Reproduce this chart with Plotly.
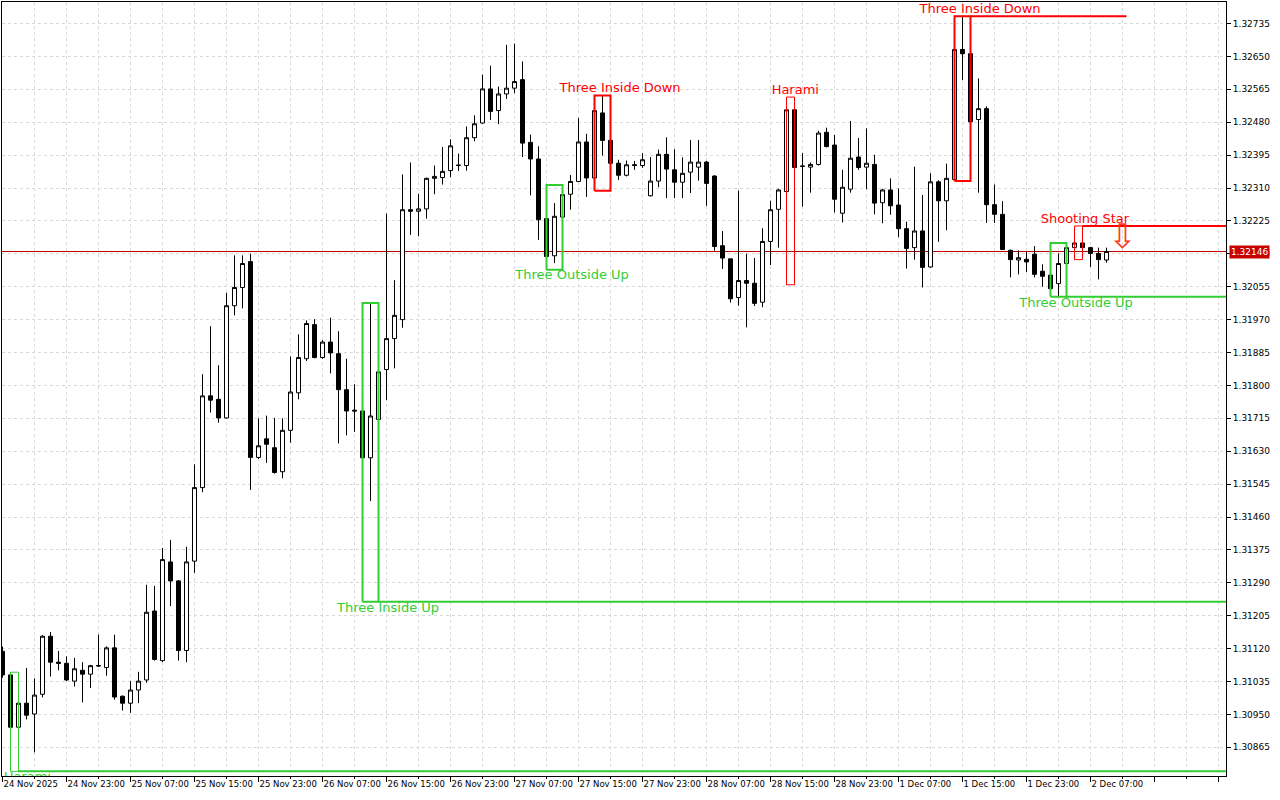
import plotly.graph_objects as go

# hourly bars, 24 Nov 2025 15:00 onwards (bar index on x)
opens = [
    1.31113, 1.31052, 1.30917, 1.30979, 1.30951, 1.31002, 1.31152, 1.31085, 1.31082, 1.31036,
    1.31064, 1.31054, 1.31075, 1.31071, 1.31122, 1.30997, 1.30979, 1.31013, 1.31039, 1.31217,
    1.31089, 1.31344, 1.31295, 1.31115, 1.31346, 1.31536, 1.31773, 1.31764, 1.31716, 1.32006,
    1.32053, 1.32120, 1.31614, 1.31662, 1.31639, 1.31577, 1.31684, 1.31781, 1.31869, 1.31957,
    1.31872, 1.31912, 1.31882, 1.31789, 1.31736, 1.31734, 1.31613, 1.31712, 1.31841, 1.31921,
    1.31970, 1.32254, 1.32250, 1.32256, 1.32335, 1.32337, 1.32355, 1.32368, 1.32368, 1.32440,
    1.32478, 1.32566, 1.32510, 1.32553, 1.32568, 1.32590, 1.32428, 1.32385, 1.32231, 1.32135,
    1.32235, 1.32294, 1.32327, 1.32429, 1.32336, 1.32504, 1.32433, 1.32374, 1.32343, 1.32368,
    1.32368, 1.32290, 1.32328, 1.32397, 1.32357, 1.32325, 1.32351, 1.32364, 1.32377, 1.32341,
    1.32161, 1.32127, 1.32027, 1.32071, 1.32064, 1.32015, 1.32172, 1.32255, 1.32301, 1.32512,
    1.32367, 1.32364, 1.32371, 1.32454, 1.32421, 1.32245, 1.32307, 1.32390, 1.32364, 1.32371,
    1.32272, 1.32305, 1.32266, 1.32205, 1.32156, 1.32199, 1.32106, 1.32326, 1.32277, 1.32332,
    1.32668, 1.32657, 1.32487, 1.32515, 1.32267, 1.32242, 1.32149, 1.32124, 1.32126, 1.32139,
    1.32095, 1.32085, 1.32063, 1.32115, 1.32156, 1.32168, 1.32156, 1.32141, 1.32124,
]
highs = [
    1.31125, 1.31059, 1.30994, 1.31070, 1.31043, 1.31155, 1.31163, 1.31114, 1.31100, 1.31096,
    1.31085, 1.31078, 1.31156, 1.31126, 1.31156, 1.30999, 1.31036, 1.31060, 1.31285, 1.31282,
    1.31380, 1.31401, 1.31297, 1.31383, 1.31596, 1.31829, 1.31953, 1.31852, 1.32039, 1.32136,
    1.32136, 1.32140, 1.31715, 1.31722, 1.31716, 1.31715, 1.31875, 1.31932, 1.31968, 1.31971,
    1.31917, 1.31975, 1.31940, 1.31869, 1.31803, 1.31766, 1.32011, 1.31891, 1.32244, 1.32072,
    1.32345, 1.32376, 1.32295, 1.32337, 1.32368, 1.32416, 1.32436, 1.32399, 1.32469, 1.32498,
    1.32603, 1.32626, 1.32572, 1.32680, 1.32683, 1.32637, 1.32448, 1.32418, 1.32231, 1.32271,
    1.32318, 1.32344, 1.32491, 1.32450, 1.32547, 1.32549, 1.32475, 1.32383, 1.32381, 1.32380,
    1.32400, 1.32390, 1.32409, 1.32441, 1.32410, 1.32389, 1.32434, 1.32434, 1.32380, 1.32343,
    1.32199, 1.32127, 1.32303, 1.32140, 1.32129, 1.32206, 1.32277, 1.32308, 1.32512, 1.32515,
    1.32400, 1.32376, 1.32458, 1.32466, 1.32447, 1.32357, 1.32483, 1.32439, 1.32464, 1.32396,
    1.32308, 1.32335, 1.32309, 1.32223, 1.32365, 1.32292, 1.32348, 1.32330, 1.32373, 1.32701,
    1.32754, 1.32660, 1.32593, 1.32521, 1.32319, 1.32276, 1.32151, 1.32149, 1.32145, 1.32160,
    1.32113, 1.32117, 1.32141, 1.32168, 1.32192, 1.32212, 1.32158, 1.32156, 1.32156,
]
lows = [
    1.31045, 1.30845, 1.30801, 1.30937, 1.30852, 1.30994, 1.31048, 1.31064, 1.31036, 1.31022,
    1.30981, 1.31018, 1.31073, 1.31050, 1.30988, 1.30960, 1.30954, 1.30979, 1.31032, 1.31089,
    1.31085, 1.31230, 1.31089, 1.31085, 1.31316, 1.31524, 1.31730, 1.31704, 1.31714, 1.31981,
    1.31999, 1.31530, 1.31610, 1.31600, 1.31572, 1.31560, 1.31652, 1.31764, 1.31863, 1.31870,
    1.31869, 1.31831, 1.31650, 1.31671, 1.31680, 1.31572, 1.31501, 1.31241, 1.31762, 1.31844,
    1.31949, 1.32189, 1.32186, 1.32231, 1.32294, 1.32319, 1.32338, 1.32354, 1.32355, 1.32431,
    1.32476, 1.32486, 1.32475, 1.32540, 1.32555, 1.32390, 1.32291, 1.32176, 1.32099, 1.32116,
    1.32205, 1.32254, 1.32325, 1.32287, 1.32304, 1.32394, 1.32303, 1.32331, 1.32340, 1.32357,
    1.32362, 1.32288, 1.32312, 1.32284, 1.32284, 1.32284, 1.32297, 1.32329, 1.32264, 1.32148,
    1.32101, 1.32014, 1.32006, 1.31950, 1.32005, 1.32002, 1.32111, 1.32156, 1.32060, 1.32344,
    1.32262, 1.32298, 1.32368, 1.32415, 1.32247, 1.32221, 1.32298, 1.32357, 1.32307, 1.32242,
    1.32219, 1.32241, 1.32183, 1.32102, 1.32125, 1.32053, 1.32104, 1.32171, 1.32201, 1.32330,
    1.32589, 1.32435, 1.32298, 1.32220, 1.32220, 1.32150, 1.32079, 1.32087, 1.32093, 1.32079,
    1.32055, 1.32037, 1.32029, 1.32102, 1.32125, 1.32145, 1.32106, 1.32074, 1.32117,
]
closes = [
    1.31052, 1.30917, 1.30979, 1.30948, 1.31000, 1.31152, 1.31085, 1.31082, 1.31039, 1.31068,
    1.31054, 1.31076, 1.31076, 1.31122, 1.30995, 1.30979, 1.31013, 1.31036, 1.31214, 1.31092,
    1.31350, 1.31295, 1.31115, 1.31344, 1.31536, 1.31773, 1.31762, 1.31716, 1.32006, 1.32053,
    1.32115, 1.31614, 1.31644, 1.31648, 1.31575, 1.31684, 1.31783, 1.31872, 1.31960, 1.31872,
    1.31912, 1.31884, 1.31789, 1.31734, 1.31734, 1.31613, 1.31721, 1.31835, 1.31921, 1.31981,
    1.32254, 1.32250, 1.32256, 1.32335, 1.32340, 1.32353, 1.32419, 1.32369, 1.32440, 1.32476,
    1.32566, 1.32508, 1.32553, 1.32568, 1.32585, 1.32426, 1.32385, 1.32228, 1.32133, 1.32237,
    1.32293, 1.32327, 1.32429, 1.32336, 1.32510, 1.32433, 1.32374, 1.32343, 1.32370, 1.32370,
    1.32383, 1.32328, 1.32397, 1.32359, 1.32325, 1.32348, 1.32377, 1.32377, 1.32322, 1.32159,
    1.32129, 1.32024, 1.32071, 1.32064, 1.32012, 1.32172, 1.32254, 1.32305, 1.32512, 1.32363,
    1.32366, 1.32371, 1.32452, 1.32417, 1.32281, 1.32312, 1.32387, 1.32363, 1.32374, 1.32271,
    1.32305, 1.32264, 1.32205, 1.32154, 1.32199, 1.32105, 1.32326, 1.32277, 1.32335, 1.32668,
    1.32657, 1.32481, 1.32515, 1.32267, 1.32242, 1.32151, 1.32125, 1.32130, 1.32119, 1.32087,
    1.32082, 1.32050, 1.32115, 1.32156, 1.32168, 1.32156, 1.32141, 1.32125, 1.32146,
]

time_labels = [
    "24 Nov 2025", "24 Nov 23:00", "25 Nov 07:00", "25 Nov 15:00", "25 Nov 23:00",
    "26 Nov 07:00", "26 Nov 15:00", "26 Nov 23:00", "27 Nov 07:00", "27 Nov 15:00",
    "27 Nov 23:00", "28 Nov 07:00", "28 Nov 15:00", "28 Nov 23:00", "1 Dec 07:00",
    "1 Dec 15:00", "1 Dec 23:00", "2 Dec 07:00",
]

# detected candlestick patterns
pattern_names = ["Harami", "Three Inside Up", "Three Outside Up", "Three Inside Down",
                 "Harami", "Three Inside Down", "Three Outside Up", "Shooting Star"]
pattern_first = [1, 45, 68, 74, 98, 119, 131, 134]
pattern_last = [2, 47, 70, 76, 99, 121, 133, 135]
pattern_top = [1.31059, 1.32013, 1.32318, 1.32549, 1.32545, 1.32754, 1.32168, 1.32212]
pattern_bottom = [1.30803, 1.31241, 1.32099, 1.32303, 1.32060, 1.32328, 1.32029, 1.32125]
pattern_bullish = [True, True, True, False, False, False, True, False]
pattern_level_end = [160, 160, None, None, None, 140.5, 160, 160]
pattern_label_at = [3.1, 48.2, 71.2, 77.2, 99.1, 122.2, 134.2, 135.3]

last_price = 1.32146
signal_bar = [140]
signal_price = [1.32178]

GREEN = "#32CD32"
RED = "#FF0000"
FONT = "DejaVu Sans"

bars = list(range(len(opens)))

fig = go.Figure()

for name, i0, i1, top, bot, bull, end in zip(pattern_names, pattern_first, pattern_last,
                                             pattern_top, pattern_bottom, pattern_bullish,
                                             pattern_level_end):
    color = GREEN if bull else RED
    width = 2 if i1 - i0 >= 2 else 1
    fig.add_trace(go.Scatter(
        x=[i0, i0, i1, i1, i0], y=[bot, top, top, bot, bot],
        mode="lines", line=dict(color=color, width=width),
        hoverinfo="skip", showlegend=False,
    ))
    if end is not None:
        level = bot if bull else top
        fig.add_trace(go.Scatter(
            x=[i1, end], y=[level, level], mode="lines",
            line=dict(color=color, width=2), hoverinfo="skip", showlegend=False,
        ))

fig.add_trace(go.Candlestick(
    x=bars, open=opens, high=highs, low=lows, close=closes,
    increasing=dict(line=dict(color="black", width=1), fillcolor="white"),
    decreasing=dict(line=dict(color="black", width=1), fillcolor="black"),
    whiskerwidth=0, showlegend=False, hoverinfo="skip",
))

for name, top, bot, bull, lx in zip(pattern_names, pattern_top, pattern_bottom,
                                    pattern_bullish, pattern_label_at):
    fig.add_trace(go.Scatter(
        x=[lx], y=[bot if bull else top], mode="text", text=[name],
        textposition="bottom center" if bull else "top center",
        textfont=dict(family=FONT, size=13, color=GREEN if bull else RED),
        cliponaxis=True, hoverinfo="skip", showlegend=False,
    ))

fig.add_trace(go.Scatter(
    x=signal_bar, y=signal_price, mode="text", text=["\u21e9"],
    textfont=dict(family=FONT, size=34, color="#FF3B1F"),
    hoverinfo="skip", showlegend=False,
))

fig.add_hline(y=last_price, line=dict(color="#C00000", width=1), layer="below")
fig.add_annotation(
    x=1, xref="paper", y=last_price, yref="y", text=f"{last_price:.5f}",
    xanchor="left", xshift=3, showarrow=False, bgcolor="#C80000",
    font=dict(family=FONT, size=9, color="white"), borderpad=1,
)

major = list(range(0, 137, 8)) + [144, 152]
major_text = time_labels + ["", ""]
minor = list(range(4, 153, 8))
grid = dict(gridcolor="#D9D9D9", griddash="3px,3px", gridwidth=1)

fig.update_layout(
    width=1280, height=800,
    margin=dict(l=2, r=54, t=2, b=24, autoexpand=False),
    paper_bgcolor="white", plot_bgcolor="white",
    font=dict(family=FONT, size=9, color="black"),
    boxgap=0.5, boxgroupgap=0,
    showlegend=False,
    xaxis=dict(
        range=[-0.0625, 152.9375], rangeslider=dict(visible=False),
        tickmode="array", tickvals=major, ticktext=major_text, tickangle=0,
        tickfont=dict(size=8.5),
        ticks="outside", ticklen=5, tickcolor="black",
        ticklabelposition="outside right",
        showline=True, linecolor="black", linewidth=1, mirror=True,
        showgrid=True, zeroline=False, **grid,
        minor=dict(tickvals=minor, showgrid=True, ticks="outside", ticklen=2,
                   tickcolor="black", **grid),
    ),
    yaxis=dict(
        side="right", range=[1.307909, 1.327906],
        tickmode="linear", tick0=1.30865, dtick=0.00085, tickformat=".5f",
        tickfont=dict(size=9),
        ticks="outside", ticklen=4, tickcolor="black",
        showline=True, linecolor="black", linewidth=1, mirror=True,
        showgrid=True, zeroline=False, **grid,
    ),
)

# the page otherwise keeps the browser's 8px body margin
fig.write_html("out.html", config={"displayModeBar": False},
               post_script="document.body.style.margin = '0';")
